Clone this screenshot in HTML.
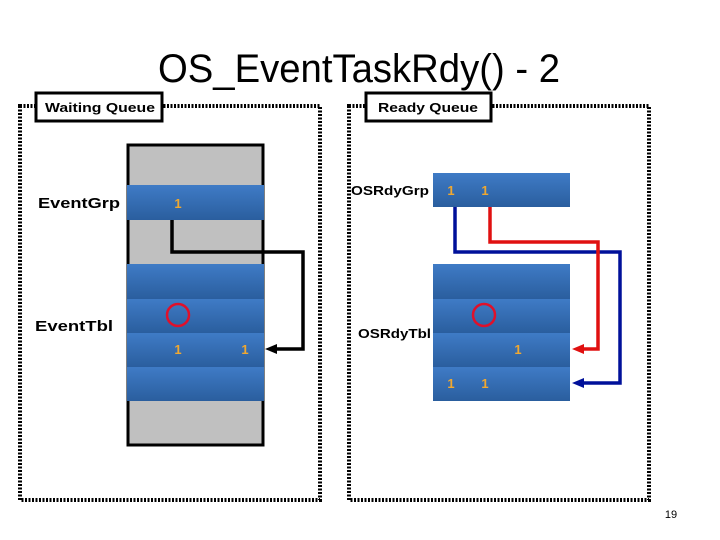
<!DOCTYPE html>
<html><head><meta charset="utf-8"><style>
html,body{margin:0;padding:0;background:#fff;}
svg{display:block}
text{font-family:"Liberation Sans",sans-serif;}
</style></head><body>
<svg width="720" height="540" viewBox="0 0 720 540">
<defs>
<linearGradient id="bg" x1="0" y1="0" x2="0" y2="1">
<stop offset="0" stop-color="#3f7bc6"/><stop offset="1" stop-color="#2a5e9e"/>
</linearGradient>
<marker id="ak" markerWidth="12" markerHeight="10" refX="2" refY="5" orient="auto" markerUnits="userSpaceOnUse"><path d="M0,5 L12,0 L12,10 z" fill="#000"/></marker>
<marker id="ab" markerWidth="12" markerHeight="10" refX="2" refY="5" orient="auto" markerUnits="userSpaceOnUse"><path d="M0,5 L12,0 L12,10 z" fill="#00109a"/></marker>
<marker id="ar" markerWidth="12" markerHeight="10" refX="2" refY="5" orient="auto" markerUnits="userSpaceOnUse"><path d="M0,5 L12,0 L12,10 z" fill="#e01010"/></marker>
</defs>
<text x="359" y="82" font-size="40" text-anchor="middle" textLength="402" lengthAdjust="spacingAndGlyphs">OS_EventTaskRdy() - 2</text>

<rect x="20" y="106" width="300" height="394" fill="none" stroke="#000" stroke-width="4" stroke-dasharray="2,1.5"/>
<rect x="349" y="106" width="300" height="394" fill="none" stroke="#000" stroke-width="4" stroke-dasharray="2,1.5"/>

<rect x="36" y="93" width="126" height="28" fill="#fff" stroke="#000" stroke-width="3"/>
<text x="45" y="112" font-size="13" font-weight="bold" textLength="110" lengthAdjust="spacingAndGlyphs">Waiting Queue</text>
<rect x="366" y="93" width="125" height="28" fill="#fff" stroke="#000" stroke-width="3"/>
<text x="378" y="112" font-size="13" font-weight="bold" textLength="100" lengthAdjust="spacingAndGlyphs">Ready Queue</text>

<rect x="128" y="145" width="135" height="300" fill="#c0c0c0" stroke="#000" stroke-width="3"/>
<rect x="127" y="185" width="137" height="35" fill="url(#bg)"/>
<rect x="127" y="264" width="137" height="35" fill="url(#bg)"/>
<rect x="127" y="299" width="137" height="34" fill="url(#bg)"/>
<rect x="127" y="333" width="137" height="34" fill="url(#bg)"/>
<rect x="127" y="367" width="137" height="34" fill="url(#bg)"/>
<circle cx="178" cy="315" r="11" fill="none" stroke="#e0102a" stroke-width="2.5"/>
<text x="38" y="208" font-size="15" font-weight="bold" textLength="82" lengthAdjust="spacingAndGlyphs">EventGrp</text>
<text x="35" y="331" font-size="15" font-weight="bold" textLength="78" lengthAdjust="spacingAndGlyphs">EventTbl</text>
<polyline points="172,220 172,252 303,252 303,349 276,349" fill="none" stroke="#000" stroke-width="3.5"/>
<path d="M265,349 L277,344 L277,354 z" fill="#000"/>

<rect x="433" y="173" width="137" height="34" fill="url(#bg)"/>
<rect x="433" y="264" width="137" height="35" fill="url(#bg)"/>
<rect x="433" y="299" width="137" height="34" fill="url(#bg)"/>
<rect x="433" y="333" width="137" height="34" fill="url(#bg)"/>
<rect x="433" y="367" width="137" height="34" fill="url(#bg)"/>
<circle cx="484" cy="315" r="11" fill="none" stroke="#e0102a" stroke-width="2.5"/>
<text x="351" y="195" font-size="13" font-weight="bold" textLength="78" lengthAdjust="spacingAndGlyphs">OSRdyGrp</text>
<text x="358" y="338" font-size="13" font-weight="bold" textLength="73" lengthAdjust="spacingAndGlyphs">OSRdyTbl</text>
<polyline points="455,207 455,252 620,252 620,383 583,383" fill="none" stroke="#00109a" stroke-width="3.5"/>
<path d="M572,383 L584,378 L584,388 z" fill="#00109a"/>
<polyline points="490,207 490,242 598,242 598,349 583,349" fill="none" stroke="#e01010" stroke-width="3.5"/>
<path d="M572,349 L584,344 L584,354 z" fill="#e01010"/>

<g font-size="13" font-weight="bold" fill="#f0a830" text-anchor="middle">
<text x="178" y="208">1</text><text x="178" y="354">1</text><text x="245" y="354">1</text>
<text x="451" y="195">1</text><text x="485" y="195">1</text><text x="518" y="354">1</text>
<text x="451" y="388">1</text><text x="485" y="388">1</text>
</g>

<text x="671" y="518" font-size="11" text-anchor="middle">19</text>
</svg>
</body></html>
